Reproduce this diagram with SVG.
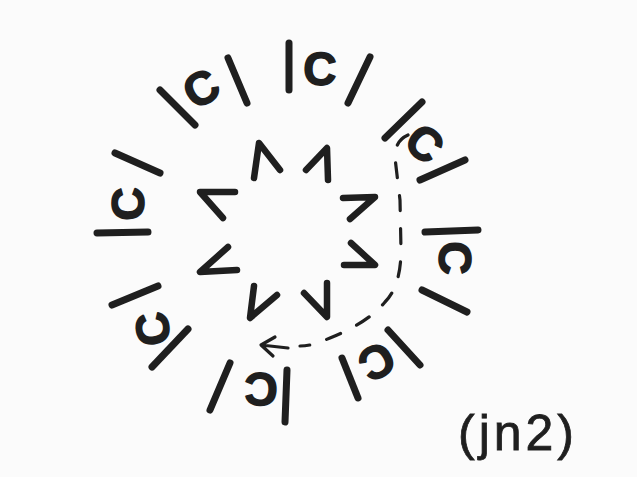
<svg xmlns="http://www.w3.org/2000/svg" width="637" height="477" viewBox="0 0 637 477">
  <style>
    .ln { stroke: #1f1f1f; stroke-width: 7; stroke-linecap: round; fill: none; }
    .ct { stroke: #1f1f1f; stroke-width: 6.5; stroke-linecap: round; stroke-linejoin: round; fill: none; }
    .c { font-family: "Liberation Sans", Arial, sans-serif; font-weight: bold; font-size: 46px; fill: #1f1f1f; text-anchor: middle; stroke: #1f1f1f; stroke-width: 1.6; stroke-linejoin: round; }
    .dash { stroke: #1f1f1f; stroke-width: 3.2; stroke-linecap: round; fill: none; stroke-dasharray: 15 18; }
    .arr { stroke: #1f1f1f; stroke-width: 3.2; stroke-linecap: round; stroke-linejoin: round; fill: none; }
    .sig { font-family: "Liberation Sans", Arial, sans-serif; font-size: 50px; fill: #1f1f1f; letter-spacing: 4px; stroke: #1f1f1f; stroke-width: 0.8; }
  </style>
  <rect width="637" height="477" fill="#fbfbfb"/>

  <!-- outer ring units: bar, C, slash -->
  <g id="unit-top">
    <line class="ln" x1="289" y1="43" x2="289" y2="90"/>
    <text class="c" transform="translate(320,68) rotate(2)" x="0" y="16.5">C</text>
    <line class="ln" x1="370" y1="57" x2="348" y2="103"/>
  </g>
  <g id="unit-upper-right">
    <line class="ln" x1="422" y1="102" x2="385" y2="138"/>
    <text class="c" transform="translate(425,143) rotate(40)" x="0" y="16.5">C</text>
    <line class="ln" x1="465" y1="160" x2="420" y2="180"/>
  </g>
  <g id="unit-right">
    <line class="ln" x1="425" y1="232" x2="478" y2="230"/>
    <text class="c" transform="translate(455,258) rotate(90)" x="0" y="16.5">C</text>
    <line class="ln" x1="422" y1="290" x2="467" y2="312"/>
  </g>
  <g id="unit-lower-right">
    <line class="ln" x1="388" y1="330" x2="420" y2="365"/>
    <text class="c" transform="translate(377,362) rotate(150)" x="0" y="16.5">C</text>
    <line class="ln" x1="342" y1="358" x2="358" y2="398"/>
  </g>
  <g id="unit-bottom">
    <line class="ln" x1="287" y1="370" x2="285" y2="422"/>
    <text class="c" transform="translate(261,390) rotate(182)" x="0" y="16.5">C</text>
    <line class="ln" x1="230" y1="363" x2="210" y2="410"/>
  </g>
  <g id="unit-lower-left">
    <line class="ln" x1="188" y1="329" x2="152" y2="367"/>
    <text class="c" transform="translate(152,329) rotate(262)" x="0" y="16.5">C</text>
    <line class="ln" x1="112" y1="305" x2="158" y2="286"/>
  </g>
  <g id="unit-left">
    <line class="ln" x1="97" y1="233" x2="148" y2="232"/>
    <text class="c" transform="translate(127,204) rotate(270)" x="0" y="16.5">C</text>
    <line class="ln" x1="115" y1="153" x2="160" y2="173"/>
  </g>
  <g id="unit-upper-left">
    <line class="ln" x1="160" y1="90" x2="195" y2="125"/>
    <text class="c" transform="translate(201,88) rotate(-30)" x="0" y="16.5">C</text>
    <line class="ln" x1="228" y1="58" x2="247" y2="103"/>
  </g>

  <!-- inner carets -->
  <g id="caret-1"><polyline class="ct" points="254,178 259,143 280,170"/></g>
  <g id="caret-2"><polyline class="ct" points="306,170 327,148 328,180"/></g>
  <g id="caret-3"><polyline class="ct" points="343,198 375,197 350,219"/></g>
  <g id="caret-4"><polyline class="ct" points="351,243 375,265 344,265"/></g>
  <g id="caret-5"><polyline class="ct" points="304,293 327,317 327,283"/></g>
  <g id="caret-6"><polyline class="ct" points="277,295 250,318 254,286"/></g>
  <g id="caret-7"><polyline class="ct" points="228,247 200,272 237,270"/></g>
  <g id="caret-8"><polyline class="ct" points="235,192 200,192 223,218"/></g>

  <!-- connector: dashed arrow -->
  <g id="connectors">
    <path class="dash" d="M408,135 C399,139 395,146 395,158 L400,200 L401,250 C401,275 395,292 385,302 C372,318 350,330 330,338 C318,343 310,346 300,346"/>
    <path class="arr" d="M288,348 L261,345 M275,337 L261,345 L273,356"/>
  </g>

  <g id="signature">
    <text class="sig" x="458" y="450">(jn2)</text>
  </g>
</svg>
